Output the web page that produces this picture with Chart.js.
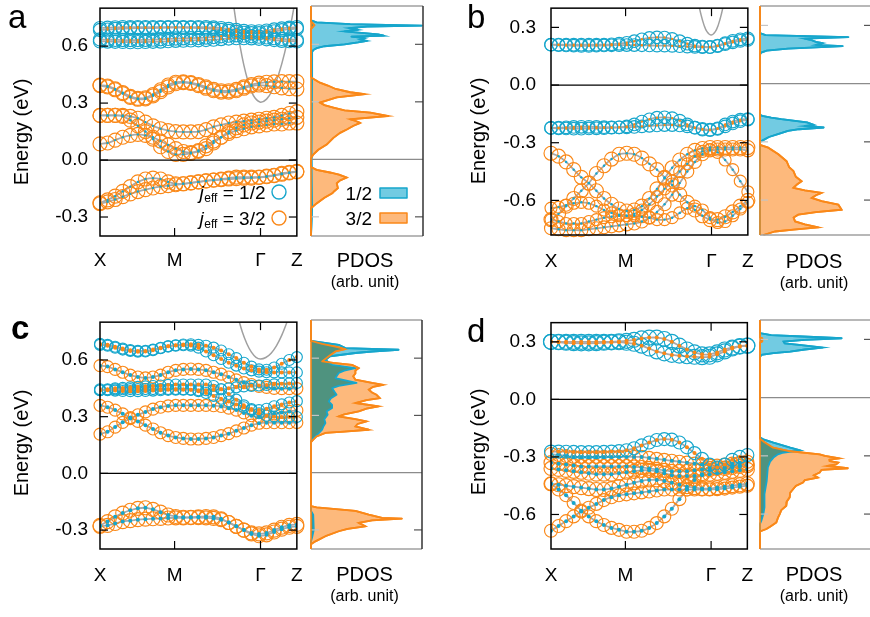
<!DOCTYPE html>
<html>
<head>
<meta charset="utf-8">
<title>jeff bands and PDOS</title>
<script src="https://cdn.jsdelivr.net/npm/chart.js@4.4.1/dist/chart.umd.min.js"></script>
<style>
  html, body { margin: 0; padding: 0; background: #fff; overflow: hidden; }
  body { width: 870px; height: 617px; position: relative; }
  canvas { position: absolute; }
</style>
</head>
<body>
<canvas id="bandA" width="305" height="300" style="left:0px;top:0px"></canvas>
<canvas id="dosA" width="125" height="300" style="left:305px;top:0px"></canvas>
<canvas id="bandB" width="305" height="300" style="left:451px;top:0px"></canvas>
<canvas id="dosB" width="125" height="300" style="left:754px;top:0px"></canvas>
<canvas id="bandC" width="305" height="300" style="left:0px;top:314px"></canvas>
<canvas id="dosC" width="125" height="300" style="left:305px;top:314px"></canvas>
<canvas id="bandD" width="305" height="300" style="left:451px;top:314px"></canvas>
<canvas id="dosD" width="125" height="300" style="left:754px;top:314px"></canvas>
<script>
/* ================= DATA ================= */
// k-path: 27 sampled points, index 0 (X) .. 26 (Z)
const K_TICKS = [0, 9.85, 21.2, 26];
const K_LABELS = ["X", "M", "Γ", "Z"];

// ---- panel a ----
const A_J12_1 = [0.695,0.697,0.699,0.700,0.700,0.700,0.700,0.700,0.700,0.700,0.700,0.700,0.700,0.700,0.700,0.698,0.695,0.690,0.685,0.680,0.678,0.678,0.682,0.688,0.693,0.697,0.700];
const A_J12_2 = [0.685,0.687,0.690,0.692,0.694,0.695,0.695,0.695,0.696,0.697,0.697,0.697,0.696,0.695,0.693,0.690,0.685,0.680,0.675,0.670,0.668,0.668,0.672,0.678,0.684,0.690,0.692];
const A_J12_3 = [0.635,0.634,0.633,0.632,0.632,0.632,0.633,0.634,0.636,0.638,0.640,0.641,0.642,0.643,0.645,0.648,0.652,0.655,0.657,0.655,0.652,0.650,0.646,0.642,0.638,0.635,0.633];
const A_J12_4 = [0.625,0.624,0.623,0.622,0.621,0.621,0.622,0.623,0.624,0.626,0.628,0.629,0.630,0.631,0.632,0.634,0.637,0.640,0.642,0.642,0.641,0.639,0.636,0.632,0.628,0.626,0.625];
const A_J32_1 = [0.395,0.390,0.375,0.355,0.335,0.325,0.328,0.345,0.370,0.395,0.410,0.412,0.408,0.398,0.385,0.372,0.365,0.365,0.372,0.385,0.397,0.405,0.410,0.412,0.413,0.413,0.413];
const A_J32_2 = [0.392,0.385,0.370,0.350,0.330,0.320,0.322,0.338,0.360,0.385,0.402,0.408,0.404,0.392,0.378,0.365,0.358,0.358,0.365,0.378,0.390,0.395,0.392,0.386,0.380,0.376,0.374];
const A_J32_3 = [0.235,0.235,0.235,0.230,0.210,0.180,0.150,0.110,0.070,0.045,0.030,0.030,0.035,0.050,0.075,0.100,0.120,0.140,0.155,0.165,0.175,0.180,0.185,0.190,0.190,0.195,0.195];
const A_J32_4 = [0.235,0.235,0.235,0.235,0.230,0.220,0.200,0.180,0.165,0.155,0.150,0.148,0.148,0.150,0.160,0.175,0.185,0.195,0.200,0.205,0.210,0.215,0.220,0.225,0.235,0.245,0.255];
const A_J32_5 = [0.085,0.090,0.105,0.120,0.130,0.135,0.130,0.120,0.100,0.080,0.060,0.045,0.040,0.045,0.060,0.090,0.120,0.150,0.170,0.185,0.195,0.200,0.205,0.210,0.215,0.220,0.225];
const A_J32_6 = [-0.225,-0.210,-0.190,-0.165,-0.140,-0.115,-0.100,-0.095,-0.100,-0.115,-0.125,-0.125,-0.120,-0.115,-0.110,-0.105,-0.100,-0.095,-0.090,-0.090,-0.090,-0.090,-0.085,-0.080,-0.070,-0.065,-0.060];
const A_J32_7 = [-0.230,-0.220,-0.208,-0.193,-0.178,-0.166,-0.156,-0.147,-0.140,-0.135,-0.130,-0.125,-0.120,-0.115,-0.110,-0.106,-0.103,-0.100,-0.098,-0.096,-0.095,-0.092,-0.088,-0.082,-0.075,-0.068,-0.062];
const A_FREE_K = [17.6,18.0,18.5,19.0,19.5,20.0,20.5,21.2,22.0,22.8,23.6,24.4,25.2,26.0];
const A_FREE_E = [0.829,0.719,0.600,0.500,0.422,0.363,0.325,0.305,0.321,0.370,0.452,0.567,0.714,0.894];

// ---- panel b ----
const B_J12_1 = [0.210,0.210,0.210,0.210,0.210,0.210,0.210,0.210,0.212,0.215,0.220,0.228,0.238,0.245,0.248,0.247,0.240,0.228,0.215,0.205,0.200,0.198,0.205,0.218,0.230,0.238,0.243];
const B_J12_2 = [0.210,0.208,0.206,0.205,0.204,0.204,0.205,0.206,0.207,0.208,0.208,0.208,0.207,0.206,0.205,0.205,0.204,0.202,0.200,0.198,0.197,0.197,0.203,0.213,0.222,0.230,0.235];
const B_J12_3 = [-0.223,-0.225,-0.226,-0.227,-0.227,-0.226,-0.225,-0.224,-0.222,-0.220,-0.215,-0.205,-0.190,-0.178,-0.170,-0.168,-0.172,-0.185,-0.205,-0.222,-0.232,-0.235,-0.225,-0.205,-0.190,-0.180,-0.177];
const B_J12_4 = [-0.223,-0.222,-0.220,-0.218,-0.217,-0.217,-0.218,-0.219,-0.220,-0.220,-0.220,-0.218,-0.215,-0.212,-0.210,-0.208,-0.208,-0.210,-0.215,-0.222,-0.228,-0.232,-0.228,-0.215,-0.200,-0.188,-0.180];
const B_J32_1 = [-0.355,-0.370,-0.400,-0.440,-0.480,-0.510,-0.550,-0.590,-0.620,-0.645,-0.655,-0.650,-0.630,-0.590,-0.540,-0.485,-0.430,-0.390,-0.360,-0.340,-0.330,-0.325,-0.325,-0.325,-0.325,-0.325,-0.325];
const B_J32_2 = [-0.700,-0.670,-0.630,-0.590,-0.550,-0.510,-0.460,-0.420,-0.385,-0.360,-0.355,-0.360,-0.380,-0.410,-0.440,-0.480,-0.520,-0.570,-0.610,-0.650,-0.680,-0.700,-0.700,-0.685,-0.660,-0.630,-0.600];
const B_J32_3 = [-0.745,-0.750,-0.755,-0.755,-0.755,-0.750,-0.745,-0.740,-0.735,-0.730,-0.725,-0.720,-0.710,-0.690,-0.660,-0.620,-0.570,-0.510,-0.450,-0.400,-0.360,-0.340,-0.335,-0.335,-0.335,-0.335,-0.340];
const B_J32_4 = [-0.700,-0.710,-0.720,-0.720,-0.720,-0.710,-0.700,-0.690,-0.685,-0.680,-0.680,-0.670,-0.650,-0.620,-0.580,-0.540,-0.500,-0.450,-0.410,-0.370,-0.345,-0.335,-0.350,-0.390,-0.440,-0.500,-0.555];
const B_J32_5 = [-0.640,-0.635,-0.625,-0.615,-0.610,-0.615,-0.630,-0.650,-0.665,-0.675,-0.680,-0.680,-0.685,-0.690,-0.700,-0.700,-0.690,-0.665,-0.640,-0.630,-0.650,-0.690,-0.715,-0.710,-0.680,-0.645,-0.610];
const B_FREE_K = [19.4,19.8,20.2,20.6,21.15,21.7,22.1,22.5,22.9];
const B_FREE_E = [0.441,0.368,0.313,0.278,0.260,0.278,0.313,0.368,0.441];

// ---- panel c ----
const C_J12_1 = [0.680,0.675,0.665,0.655,0.648,0.644,0.645,0.652,0.662,0.672,0.678,0.682,0.683,0.680,0.675,0.665,0.650,0.630,0.610,0.585,0.565,0.550,0.548,0.560,0.580,0.600,0.615];
const C_J12_2 = [0.685,0.680,0.670,0.660,0.652,0.648,0.648,0.655,0.664,0.672,0.676,0.678,0.676,0.665,0.645,0.625,0.605,0.585,0.570,0.555,0.545,0.538,0.535,0.534,0.534,0.534,0.534];
const C_J12_3 = [0.445,0.445,0.450,0.452,0.455,0.458,0.460,0.462,0.465,0.468,0.470,0.470,0.470,0.470,0.470,0.462,0.445,0.420,0.390,0.360,0.335,0.318,0.305,0.300,0.298,0.298,0.298];
const C_J12_4 = [0.440,0.440,0.438,0.436,0.435,0.435,0.436,0.438,0.440,0.442,0.443,0.443,0.442,0.440,0.440,0.442,0.445,0.450,0.455,0.460,0.463,0.465,0.468,0.471,0.474,0.476,0.478];
const C_J12_5 = [0.440,0.442,0.444,0.445,0.446,0.446,0.446,0.446,0.446,0.446,0.446,0.445,0.443,0.435,0.425,0.410,0.395,0.380,0.365,0.350,0.340,0.335,0.342,0.355,0.365,0.375,0.382];
const C_J32_1 = [0.570,0.565,0.550,0.535,0.520,0.510,0.505,0.510,0.520,0.535,0.545,0.550,0.552,0.550,0.545,0.535,0.525,0.510,0.495,0.480,0.470,0.460,0.455,0.450,0.448,0.448,0.449];
const C_J32_2 = [0.360,0.350,0.335,0.315,0.295,0.275,0.255,0.235,0.215,0.200,0.190,0.185,0.182,0.182,0.185,0.190,0.200,0.210,0.225,0.240,0.255,0.265,0.268,0.268,0.268,0.268,0.269];
const C_J32_3 = [0.208,0.220,0.245,0.270,0.290,0.310,0.325,0.340,0.350,0.357,0.360,0.360,0.360,0.360,0.360,0.358,0.354,0.345,0.335,0.320,0.305,0.300,0.305,0.315,0.322,0.328,0.333];
const C_J32_4 = [-0.275,-0.255,-0.230,-0.210,-0.195,-0.185,-0.182,-0.190,-0.205,-0.220,-0.228,-0.232,-0.232,-0.230,-0.228,-0.230,-0.240,-0.260,-0.280,-0.300,-0.315,-0.320,-0.315,-0.300,-0.285,-0.275,-0.270];
const C_J32_5 = [-0.280,-0.275,-0.265,-0.255,-0.250,-0.245,-0.242,-0.240,-0.238,-0.236,-0.235,-0.235,-0.234,-0.234,-0.235,-0.238,-0.245,-0.260,-0.280,-0.300,-0.320,-0.330,-0.325,-0.310,-0.295,-0.285,-0.280];
const C_FREE_K = [18.2,18.8,19.4,20.0,20.6,21.2,21.9,22.6,23.3,24.0,24.8];
const C_FREE_E = [0.829,0.748,0.686,0.641,0.614,0.605,0.613,0.636,0.675,0.730,0.811];

// ---- panel d ----
const D_J12_1 = [0.300,0.300,0.300,0.300,0.300,0.300,0.300,0.300,0.300,0.302,0.305,0.310,0.318,0.322,0.322,0.315,0.300,0.280,0.260,0.245,0.235,0.235,0.245,0.260,0.270,0.278,0.280];
const D_J12_2 = [0.300,0.298,0.295,0.293,0.292,0.292,0.293,0.295,0.297,0.298,0.295,0.290,0.280,0.265,0.250,0.240,0.232,0.228,0.225,0.222,0.220,0.222,0.235,0.250,0.265,0.275,0.280];
const D_J12_3 = [-0.272,-0.272,-0.273,-0.274,-0.275,-0.275,-0.275,-0.274,-0.272,-0.270,-0.265,-0.255,-0.240,-0.225,-0.212,-0.207,-0.210,-0.225,-0.250,-0.280,-0.310,-0.340,-0.355,-0.340,-0.315,-0.300,-0.290];
const D_J32_1 = [-0.285,-0.290,-0.295,-0.300,-0.300,-0.300,-0.300,-0.300,-0.300,-0.300,-0.300,-0.300,-0.300,-0.305,-0.310,-0.315,-0.320,-0.325,-0.330,-0.335,-0.340,-0.345,-0.345,-0.340,-0.335,-0.330,-0.325];
const D_J32_2 = [-0.330,-0.335,-0.340,-0.345,-0.350,-0.350,-0.350,-0.350,-0.350,-0.350,-0.350,-0.352,-0.355,-0.360,-0.365,-0.370,-0.375,-0.375,-0.375,-0.370,-0.365,-0.360,-0.360,-0.360,-0.355,-0.350,-0.345];
const D_J32_3 = [-0.360,-0.365,-0.370,-0.375,-0.380,-0.385,-0.390,-0.390,-0.390,-0.385,-0.380,-0.375,-0.370,-0.370,-0.375,-0.385,-0.395,-0.400,-0.400,-0.400,-0.395,-0.390,-0.385,-0.380,-0.375,-0.370,-0.365];
const D_J32_4 = [-0.440,-0.445,-0.450,-0.455,-0.460,-0.465,-0.470,-0.470,-0.465,-0.455,-0.445,-0.435,-0.425,-0.420,-0.420,-0.425,-0.435,-0.445,-0.455,-0.460,-0.465,-0.465,-0.460,-0.455,-0.450,-0.445,-0.440];
const D_J32_5 = [-0.440,-0.470,-0.500,-0.540,-0.580,-0.610,-0.635,-0.655,-0.670,-0.680,-0.690,-0.690,-0.685,-0.670,-0.645,-0.610,-0.570,-0.520,-0.470,-0.420,-0.390,-0.370,-0.360,-0.355,-0.350,-0.345,-0.340];
const D_J32_6 = [-0.685,-0.660,-0.635,-0.610,-0.585,-0.565,-0.545,-0.525,-0.510,-0.500,-0.495,-0.490,-0.485,-0.480,-0.475,-0.470,-0.470,-0.470,-0.470,-0.470,-0.470,-0.470,-0.468,-0.465,-0.460,-0.455,-0.450];

// PDOS: [energy, weight] pairs, weight in panel-width units
const DOS_A_J12 = [[0.80,0],[0.725,0],[0.715,0.05],[0.705,0.35],[0.698,0.99],[0.692,0.50],[0.685,0.34],[0.676,0.42],[0.668,0.30],[0.660,0.45],[0.652,0.60],[0.645,0.65],[0.640,0.36],[0.632,0.48],[0.625,0.44],[0.618,0.50],[0.610,0.42],[0.600,0.30],[0.590,0.12],[0.580,0.05],[0.570,0.02],[0.560,0.01],[0.420,0.01],[0.0,0.005],[-0.25,0.01],[-0.40,0]];
const DOS_A_J32 = [[0.80,0],[0.72,0],[0.70,0.03],[0.68,0],[0.43,0],[0.42,0.02],[0.40,0.08],[0.385,0.15],[0.367,0.22],[0.350,0.35],[0.340,0.48],[0.323,0.23],[0.296,0.08],[0.283,0.12],[0.270,0.20],[0.255,0.30],[0.244,0.53],[0.226,0.69],[0.209,0.35],[0.200,0.40],[0.190,0.44],[0.175,0.38],[0.156,0.32],[0.138,0.26],[0.112,0.20],[0.077,0.14],[0.050,0.065],[0.025,0.02],[0.005,0],[-0.040,0],[-0.055,0.05],[-0.070,0.18],[-0.080,0.25],[-0.095,0.32],[-0.110,0.26],[-0.125,0.23],[-0.150,0.24],[-0.165,0.21],[-0.177,0.19],[-0.200,0.12],[-0.230,0.05],[-0.255,0],[-0.40,0]];
const DOS_B_J12 = [[0.40,0],[0.26,0],[0.25,0.05],[0.24,0.79],[0.232,0.40],[0.226,0.45],[0.215,0.50],[0.209,0.56],[0.200,0.50],[0.193,0.74],[0.186,0.45],[0.180,0.25],[0.170,0.06],[0.160,0.01],[0.15,0],[-0.16,0],[-0.166,0.02],[-0.175,0.10],[-0.183,0.19],[-0.200,0.42],[-0.212,0.48],[-0.218,0.40],[-0.226,0.57],[-0.235,0.35],[-0.243,0.25],[-0.260,0.16],[-0.275,0.08],[-0.286,0.045],[-0.30,0],[-0.78,0]];
const DOS_B_J32 = [[0.40,0],[-0.316,0],[-0.33,0.074],[-0.364,0.164],[-0.40,0.238],[-0.43,0.26],[-0.45,0.298],[-0.48,0.32],[-0.503,0.372],[-0.52,0.33],[-0.537,0.298],[-0.55,0.40],[-0.563,0.551],[-0.575,0.50],[-0.589,0.461],[-0.605,0.55],[-0.623,0.699],[-0.65,0.729],[-0.662,0.50],[-0.675,0.342],[-0.69,0.30],[-0.71,0.313],[-0.725,0.40],[-0.741,0.521],[-0.752,0.30],[-0.762,0.134],[-0.78,0.03]];
const DOS_C_J12 = [[0.80,0],[0.69,0],[0.67,0.25],[0.653,0.31],[0.644,0.79],[0.635,0.55],[0.627,0.40],[0.61,0.17],[0.59,0.13],[0.565,0.19],[0.548,0.40],[0.535,0.30],[0.522,0.25],[0.496,0.22],[0.47,0.41],[0.455,0.25],[0.443,0.19],[0.425,0.21],[0.408,0.23],[0.39,0.18],[0.373,0.16],[0.355,0.19],[0.339,0.19],[0.32,0.14],[0.304,0.15],[0.28,0.12],[0.26,0.13],[0.24,0.11],[0.225,0.10],[0.20,0.06],[0.19,0.04],[0.175,0.01],[0.165,0],[-0.20,0],[-0.22,0.02],[-0.30,0.025],[-0.34,0.01],[-0.36,0],[-0.40,0]];
const DOS_C_J32 = [[0.80,0],[0.69,0],[0.675,0.10],[0.66,0.22],[0.648,0.31],[0.635,0.22],[0.61,0.16],[0.583,0.10],[0.575,0.20],[0.565,0.37],[0.548,0.43],[0.535,0.40],[0.52,0.40],[0.505,0.38],[0.487,0.40],[0.47,0.55],[0.46,0.65],[0.45,0.56],[0.435,0.52],[0.42,0.55],[0.408,0.59],[0.391,0.62],[0.38,0.50],[0.365,0.40],[0.347,0.61],[0.335,0.50],[0.321,0.43],[0.305,0.30],[0.295,0.25],[0.28,0.40],[0.269,0.50],[0.255,0.42],[0.242,0.40],[0.225,0.52],[0.215,0.30],[0.208,0.13],[0.19,0.05],[0.173,0.02],[0.16,0],[-0.175,0],[-0.182,0.05],[-0.20,0.40],[-0.22,0.52],[-0.237,0.64],[-0.241,0.82],[-0.25,0.55],[-0.263,0.43],[-0.281,0.49],[-0.295,0.33],[-0.307,0.25],[-0.333,0.13],[-0.36,0.04],[-0.375,0],[-0.40,0]];
const DOS_D_J12 = [[0.40,0],[0.332,0],[0.322,0.10],[0.315,0.38],[0.306,0.73],[0.298,0.40],[0.289,0.21],[0.280,0.22],[0.272,0.35],[0.258,0.56],[0.248,0.40],[0.237,0.27],[0.229,0.12],[0.22,0.012],[0.21,0],[-0.205,0],[-0.215,0.03],[-0.232,0.12],[-0.258,0.27],[-0.272,0.36],[-0.285,0.20],[-0.292,0.16],[-0.309,0.12],[-0.33,0.09],[-0.36,0.07],[-0.43,0.06],[-0.497,0.04],[-0.566,0.04],[-0.60,0.03],[-0.634,0.012],[-0.65,0],[-0.78,0]];
const DOS_D_J32 = [[0.40,0],[0.31,0],[0.305,0.02],[0.29,0.02],[0.285,0],[-0.212,0],[-0.23,0.04],[-0.258,0.116],[-0.275,0.25],[-0.292,0.533],[-0.300,0.58],[-0.313,0.711],[-0.320,0.62],[-0.327,0.622],[-0.335,0.70],[-0.344,0.68],[-0.352,0.60],[-0.364,0.786],[-0.372,0.55],[-0.386,0.533],[-0.40,0.48],[-0.412,0.518],[-0.425,0.40],[-0.437,0.384],[-0.455,0.32],[-0.472,0.295],[-0.49,0.27],[-0.514,0.265],[-0.535,0.24],[-0.557,0.235],[-0.58,0.19],[-0.60,0.176],[-0.62,0.16],[-0.643,0.146],[-0.665,0.09],[-0.677,0.057],[-0.69,0],[-0.78,0]];

const TICKS_AC = [-0.3, 0, 0.3, 0.6];
const TICKS_BD = [-0.6, -0.3, 0, 0.3];

/* ================= STYLE ================= */
const FONT = "'Liberation Sans', Arial, Helvetica, sans-serif";
const BLUE = "#16a6cc";
const ORANGE = "#fa8818";
const BLUE_FILL = "#72cbe2";
const ORANGE_FILL = "#fdb97c";
const OVERLAP_FILL = "#4f937f";
const BAND_GREY = "#a9a9a9";

/* ================= BAND PANELS ================= */
const bandDecor = {
  id: "bandDecor",
  afterDatasetsDraw(chart, args, o) {
    const { ctx, chartArea: a, scales: { x, y } } = chart;
    const seg = (x1, y1, x2, y2) => { ctx.beginPath(); ctx.moveTo(x1, y1); ctx.lineTo(x2, y2); ctx.stroke(); };
    ctx.save();
    ctx.strokeStyle = "#000";
    ctx.lineWidth = 1.2;
    const y0 = y.getPixelForValue(0);
    seg(a.left, y0, a.right, y0);
    o.yTicks.forEach(v => {
      const py = y.getPixelForValue(v);
      seg(a.left, py, a.left + 8, py);
      seg(a.right - 8, py, a.right, py);
    });
    [K_TICKS[1], K_TICKS[2]].forEach(v => {
      const px = x.getPixelForValue(v);
      seg(px, a.top, px, a.top + 8);
      seg(px, a.bottom - 8, px, a.bottom);
    });
    ctx.lineWidth = 1.5;
    ctx.strokeRect(a.left, a.top, a.right - a.left, a.bottom - a.top);

    // axis title and panel letter
    ctx.fillStyle = "#000";
    ctx.save();
    ctx.translate(o.titleX, o.titleY);
    ctx.rotate(-Math.PI / 2);
    ctx.font = `20px ${FONT}`;
    ctx.textAlign = "center";
    ctx.textBaseline = "middle";
    ctx.fillText("Energy (eV)", 0, 0);
    ctx.restore();
    ctx.font = `${o.letterBold ? "bold " : ""}33px ${FONT}`;
    ctx.textAlign = "left";
    ctx.textBaseline = "alphabetic";
    ctx.fillText(o.letter, o.letterX, o.letterY);

    if (o.legend) {
      [["1/2", BLUE, 199], ["3/2", ORANGE, 225]].forEach(([t, c, by]) => {
        ctx.font = `italic 19px ${FONT}`;
        const wj = ctx.measureText("j").width;
        ctx.font = `12px ${FONT}`;
        const we = ctx.measureText("eff").width;
        ctx.font = `19px ${FONT}`;
        const wr = ctx.measureText(" = " + t).width;
        let x0 = 265 - wj - we - wr;
        ctx.font = `italic 19px ${FONT}`;
        ctx.fillText("j", x0, by);
        ctx.font = `12px ${FONT}`;
        ctx.fillText("eff", x0 + wj + 0.5, by + 3);
        ctx.font = `19px ${FONT}`;
        ctx.fillText(" = " + t, x0 + wj + we + 0.5, by);
        ctx.strokeStyle = c;
        ctx.lineWidth = 1.4;
        ctx.beginPath();
        ctx.arc(279, by - 7, 7, 0, Math.PI * 2);
        ctx.stroke();
      });
    }
    ctx.restore();
  }
};

function makeBandChart(p) {
  const datasets = [];
  p.bands.forEach(b => {
    const pts = b.e.map((v, i) => ({ x: i, y: v }));
    const main = b.j === "1/2" ? BLUE : ORANGE;
    const other = b.j === "1/2" ? ORANGE : BLUE;
    // band line
    datasets.push({ data: pts, showLine: true, tension: 0.3, borderColor: BAND_GREY, borderWidth: 1.8, pointRadius: 0, order: 3 });
    // projected weight rings
    datasets.push({ data: pts, showLine: false, pointRadius: b.r, pointBorderWidth: 1.15, pointBorderColor: main, pointBackgroundColor: "rgba(0,0,0,0)", clip: false, order: 2 });
    // other-channel dots
    datasets.push({ data: pts, showLine: false, pointRadius: p.dot, pointBorderWidth: 0, pointBackgroundColor: other, order: 1 });
  });
  if (p.freeK) {
    datasets.push({ data: p.freeK.map((k, i) => ({ x: k, y: p.freeE[i] })), showLine: true, tension: 0.4, borderColor: "#a0a0a0", borderWidth: 1.5, pointRadius: 0, order: 4 });
  }
  const zeroPad = s => { s.paddingTop = 0; s.paddingBottom = 0; s.paddingLeft = 0; s.paddingRight = 0; };
  return new Chart(document.getElementById(p.id), {
    type: "scatter",
    data: { datasets },
    options: {
      responsive: false,
      animation: false,
      events: [],
      layout: { padding: { left: 0, right: 7, top: 6, bottom: 0 } },
      plugins: {
        legend: { display: false },
        tooltip: { enabled: false },
        bandDecor: p.decor
      },
      scales: {
        x: {
          type: "linear", min: 0, max: 26,
          afterBuildTicks: s => { s.ticks = K_TICKS.map(v => ({ value: v })); },
          afterFit: s => { s.height = p.xAxisH; zeroPad(s); },
          grid: { display: false, drawTicks: false },
          border: { display: false },
          ticks: {
            callback: (v, i) => K_LABELS[i],
            autoSkip: false, maxRotation: 0,
            font: { family: FONT, size: 19 }, color: "#000", padding: p.xPad
          }
        },
        y: {
          type: "linear", min: p.yMin, max: p.yMax,
          afterBuildTicks: s => { s.ticks = p.yTicks.map(v => ({ value: v })); },
          afterFit: s => { s.width = 100; zeroPad(s); },
          grid: { display: false, drawTicks: false },
          border: { display: false },
          ticks: {
            callback: v => v.toFixed(1),
            font: { family: FONT, size: 19 }, color: "#000", padding: p.yPad
          }
        }
      }
    },
    plugins: [bandDecor]
  });
}

/* ================= PDOS PANELS ================= */
const dosDecor = {
  id: "dosDecor",
  afterDatasetsDraw(chart, args, o) {
    const { ctx, chartArea: a, scales: { x, y } } = chart;
    const seg = (x1, y1, x2, y2) => { ctx.beginPath(); ctx.moveTo(x1, y1); ctx.lineTo(x2, y2); ctx.stroke(); };
    const q = chart.getDatasetMeta(0).data;   // 3/2
    const h = chart.getDatasetMeta(1).data;   // 1/2
    const base = x.getPixelForValue(0);
    const area = pts => {
      ctx.beginPath();
      ctx.moveTo(base, pts[0].y);
      pts.forEach(pt => ctx.lineTo(pt.x, pt.y));
      ctx.lineTo(base, pts[pts.length - 1].y);
      ctx.closePath();
    };
    const trace = (pts, c) => {
      ctx.beginPath();
      pts.forEach((pt, i) => (i ? ctx.lineTo(pt.x, pt.y) : ctx.moveTo(pt.x, pt.y)));
      ctx.strokeStyle = c;
      ctx.lineWidth = 1.8;
      ctx.stroke();
    };

    // where both channels overlap
    ctx.save();
    area(h);
    ctx.clip();
    area(q);
    ctx.fillStyle = OVERLAP_FILL;
    ctx.fill();
    ctx.restore();

    ctx.save();
    ctx.lineJoin = "round";
    trace(h, BLUE);
    trace(q, ORANGE);
    ctx.lineWidth = 1.2;
    o.yTicks.forEach(v => {
      const py = y.getPixelForValue(v);
      if (v === 0) {
        ctx.strokeStyle = "#8c8c8c";
        seg(a.left, py, a.right, py);
      } else {
        ctx.strokeStyle = "#c4c4c4";
        seg(a.left, py, a.left + 8, py);
        ctx.strokeStyle = "#555";
        seg(a.right - 8, py, a.right, py);
      }
    });
    ctx.lineWidth = 1.5;
    ctx.strokeStyle = "#a0a0a0";
    seg(a.left, a.top, a.right, a.top);
    seg(a.left, a.bottom, a.right, a.bottom);
    ctx.strokeStyle = "#333";
    seg(a.right, a.top, a.right, a.bottom);
    ctx.strokeStyle = ORANGE;
    ctx.lineWidth = 1.6;
    seg(a.left, a.top, a.left, a.bottom);

    ctx.fillStyle = "#000";
    ctx.textAlign = "center";
    ctx.textBaseline = "alphabetic";
    const cx = (a.left + a.right) / 2 - 2;
    ctx.font = `20px ${FONT}`;
    ctx.fillText("PDOS", cx, a.bottom + o.capY);
    ctx.font = `16px ${FONT}`;
    ctx.fillText("(arb. unit)", cx, a.bottom + o.capY + 20);

    if (o.legend) {
      [["1/2", BLUE, BLUE_FILL, 193], ["3/2", ORANGE, ORANGE_FILL, 218]].forEach(([t, c, f, cy]) => {
        ctx.font = `19px ${FONT}`;
        ctx.textAlign = "right";
        ctx.fillText(t, a.left + 61, cy + 7);
        ctx.fillStyle = f;
        ctx.fillRect(a.left + 69, cy - 5, 27, 10);
        ctx.strokeStyle = c;
        ctx.lineWidth = 1.5;
        ctx.strokeRect(a.left + 69, cy - 5, 27, 10);
        ctx.fillStyle = "#000";
      });
    }
    ctx.restore();
  }
};

function makeDosChart(p) {
  const toPts = pairs => pairs.map(([e, w]) => ({ x: w, y: e }));
  return new Chart(document.getElementById(p.id), {
    type: "line",
    data: {
      datasets: [
        { label: "3/2", data: toPts(p.j32), borderColor: ORANGE, borderWidth: 1.8, backgroundColor: ORANGE_FILL, fill: "origin", pointRadius: 0, tension: 0 },
        { label: "1/2", data: toPts(p.j12), borderColor: BLUE, borderWidth: 1.8, backgroundColor: BLUE_FILL, fill: "origin", pointRadius: 0, tension: 0 }
      ]
    },
    options: {
      indexAxis: "y",
      responsive: false,
      animation: false,
      events: [],
      layout: { padding: { left: 6, right: p.padR, top: 6, bottom: p.padB } },
      plugins: {
        legend: { display: false },
        tooltip: { enabled: false },
        dosDecor: p.decor
      },
      scales: {
        x: { type: "linear", min: 0, max: 1, display: false },
        y: { type: "linear", min: p.yMin, max: p.yMax, display: false }
      }
    },
    plugins: [dosDecor]
  });
}

/* ================= INIT ================= */
makeBandChart({
  id: "bandA", yMin: -0.4, yMax: 0.8, yTicks: TICKS_AC, xAxisH: 64, xPad: 13, yPad: 12, dot: 1.2,
  freeK: A_FREE_K, freeE: A_FREE_E,
  bands: [
    { e: A_J12_1, j: "1/2", r: 6.6 }, { e: A_J12_2, j: "1/2", r: 6.6 },
    { e: A_J12_3, j: "1/2", r: 6.6 }, { e: A_J12_4, j: "1/2", r: 6.6 },
    { e: A_J32_1, j: "3/2", r: 7 }, { e: A_J32_2, j: "3/2", r: 7 },
    { e: A_J32_3, j: "3/2", r: 7 }, { e: A_J32_4, j: "3/2", r: 7 },
    { e: A_J32_5, j: "3/2", r: 7 }, { e: A_J32_6, j: "3/2", r: 7 },
    { e: A_J32_7, j: "3/2", r: 7 }
  ],
  decor: { yTicks: TICKS_AC, titleX: 22, titleY: 132, letter: "a", letterX: 8, letterY: 28, legend: true }
});
makeDosChart({ id: "dosA", yMin: -0.4, yMax: 0.8, padR: 7, padB: 64, j12: DOS_A_J12, j32: DOS_A_J32,
  decor: { yTicks: TICKS_AC, capY: 31, legend: true } });

makeBandChart({
  id: "bandB", yMin: -0.78, yMax: 0.4, yTicks: TICKS_BD, xAxisH: 65, xPad: 15, yPad: 15, dot: 1.2,
  freeK: B_FREE_K, freeE: B_FREE_E,
  bands: [
    { e: B_J12_1, j: "1/2", r: 6.3 }, { e: B_J12_2, j: "1/2", r: 6.3 },
    { e: B_J12_3, j: "1/2", r: 6.3 }, { e: B_J12_4, j: "1/2", r: 6.3 },
    { e: B_J32_1, j: "3/2", r: 7 }, { e: B_J32_2, j: "3/2", r: 7 },
    { e: B_J32_3, j: "3/2", r: 6.5 }, { e: B_J32_4, j: "3/2", r: 6 },
    { e: B_J32_5, j: "3/2", r: 6 }
  ],
  decor: { yTicks: TICKS_BD, titleX: 28, titleY: 131, letter: "b", letterX: 16, letterY: 28 }
});
makeDosChart({ id: "dosB", yMin: -0.78, yMax: 0.4, padR: 7, padB: 65, j12: DOS_B_J12, j32: DOS_B_J32,
  decor: { yTicks: TICKS_BD, capY: 33 } });

makeBandChart({
  id: "bandC", yMin: -0.4, yMax: 0.8, yTicks: TICKS_AC, xAxisH: 65, xPad: 15, yPad: 12, dot: 2,
  freeK: C_FREE_K, freeE: C_FREE_E,
  bands: [
    { e: C_J12_1, j: "1/2", r: 5.5 }, { e: C_J12_2, j: "1/2", r: 5.5 },
    { e: C_J12_3, j: "1/2", r: 5.5 }, { e: C_J12_4, j: "1/2", r: 5.5 },
    { e: C_J12_5, j: "1/2", r: 5.5 },
    { e: C_J32_1, j: "3/2", r: 6 }, { e: C_J32_2, j: "3/2", r: 6 },
    { e: C_J32_3, j: "3/2", r: 6 }, { e: C_J32_4, j: "3/2", r: 7 },
    { e: C_J32_5, j: "3/2", r: 7 }
  ],
  decor: { yTicks: TICKS_AC, titleX: 22, titleY: 129, letter: "c", letterBold: true, letterX: 11, letterY: 25 }
});
makeDosChart({ id: "dosC", yMin: -0.4, yMax: 0.8, padR: 8, padB: 65, j12: DOS_C_J12, j32: DOS_C_J32,
  decor: { yTicks: TICKS_AC, capY: 32 } });

makeBandChart({
  id: "bandD", yMin: -0.78, yMax: 0.4, yTicks: TICKS_BD, xAxisH: 65, xPad: 15, yPad: 15, dot: 2,
  bands: [
    { e: D_J12_1, j: "1/2", r: 7.5 }, { e: D_J12_2, j: "1/2", r: 7.5 },
    { e: D_J12_3, j: "1/2", r: 6.5 },
    { e: D_J32_1, j: "3/2", r: 6.5 }, { e: D_J32_2, j: "3/2", r: 7 },
    { e: D_J32_3, j: "3/2", r: 7 }, { e: D_J32_4, j: "3/2", r: 7 },
    { e: D_J32_5, j: "3/2", r: 6.5 }, { e: D_J32_6, j: "3/2", r: 6.5 }
  ],
  decor: { yTicks: TICKS_BD, titleX: 28, titleY: 128, letter: "d", letterX: 16, letterY: 28 }
});
makeDosChart({ id: "dosD", yMin: -0.78, yMax: 0.4, padR: 7, padB: 65, j12: DOS_D_J12, j32: DOS_D_J32,
  decor: { yTicks: TICKS_BD, capY: 32 } });
</script>
</body>
</html>
